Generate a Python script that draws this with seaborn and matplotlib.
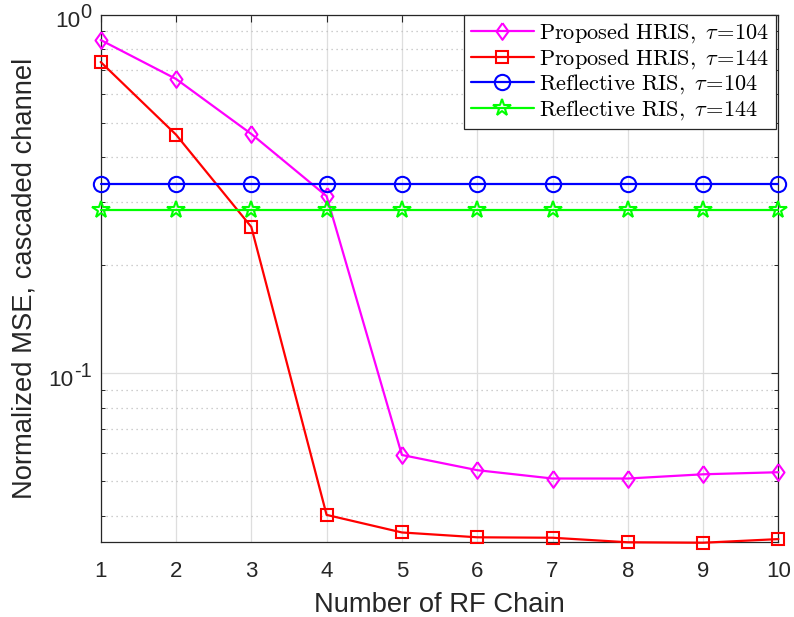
import numpy as np
import pandas as pd
import matplotlib
matplotlib.use("Agg")
import matplotlib.pyplot as plt
import seaborn as sns
from matplotlib.ticker import LogLocator, FixedLocator, NullFormatter
from matplotlib.transforms import blended_transform_factory

# ---- data ----
rf_chains = [1, 2, 3, 4, 5, 6, 7, 8, 9, 10]
hris_104 = [0.850, 0.662, 0.465, 0.312, 0.0592, 0.0537, 0.0509, 0.0509, 0.0523, 0.0530]
hris_144 = [0.738, 0.463, 0.256, 0.0403, 0.0360, 0.0349, 0.0348, 0.0338, 0.0337, 0.0345]
refl_104 = [0.337] * 10
refl_144 = [0.2855] * 10
y_major_ticks = [0.1, 1.0]

labels = [
    r"$\mathrm{Proposed\ HRIS,}\ \tau\!=\!\mathrm{104}$",
    r"$\mathrm{Proposed\ HRIS,}\ \tau\!=\!\mathrm{144}$",
    r"$\mathrm{Reflective\ RIS,}\ \tau\!=\!\mathrm{104}$",
    r"$\mathrm{Reflective\ RIS,}\ \tau\!=\!\mathrm{144}$",
]
series = [hris_104, hris_144, refl_104, refl_144]
colors = ["#FF00FF", "#FF0000", "#0000FF", "#00FF00"]
diamond = [(0, 1), (0.72, 0), (0, -1), (-0.72, 0), (0, 1)]
markers = [diamond, "s", "o", "*"]
msizes = [12, 9, 11, 13]

sns.set_style("white")
plt.rcParams["font.family"] = ["Liberation Sans", "DejaVu Sans"]
plt.rcParams["mathtext.fontset"] = "custom"
plt.rcParams["mathtext.rm"] = "Liberation Sans"
plt.rcParams["mathtext.it"] = "Liberation Sans:italic"
plt.rcParams["mathtext.bf"] = "Liberation Sans:bold"

fig = plt.figure(figsize=(7.94, 6.17), dpi=100)
ax = fig.add_axes([0.1268, 0.1211, 0.8536, 0.8551])

for y, lab, c, m, ms in zip(series, labels, colors, markers, msizes):
    df = pd.DataFrame({"x": rf_chains, "y": y})
    sns.lineplot(data=df, x="x", y="y", ax=ax, color=c, marker=m, markersize=ms,
                 markerfacecolor="none", markeredgecolor=c, markeredgewidth=1.5,
                 linewidth=1.6, label=lab, clip_on=False, zorder=3)

ax.set_yscale("log")
ax.set_xlim(1, 10)
ax.set_ylim(0.0338, 1.0)
ax.set_xticks(rf_chains)
ax.yaxis.set_major_locator(FixedLocator(y_major_ticks))
ax.yaxis.set_major_formatter(NullFormatter())
ax.yaxis.set_minor_locator(LogLocator(base=10, subs=np.arange(2, 10)))
ax.yaxis.set_minor_formatter(NullFormatter())

dark = "#262626"
ax.grid(True, which="major", axis="both", color="#DEDEDE", linestyle="-", linewidth=0.9, zorder=0)
ax.grid(True, which="minor", axis="y", color="#BEBEBE", linestyle=(0, (1, 3)), linewidth=0.9, zorder=0)
ax.set_axisbelow(True)

for sp in ax.spines.values():
    sp.set_visible(True)
    sp.set_color(dark)
    sp.set_linewidth(0.9)
ax.tick_params(which="major", direction="in", length=5, width=0.8, color=dark,
               top=True, right=True, labelsize=16, labelcolor=dark)
ax.tick_params(axis="x", which="major", pad=13.4)
ax.tick_params(which="minor", direction="in", length=3, width=0.7, color=dark,
               left=True, right=True)

ax.set_xlabel("Number of RF Chain", fontsize=19.7, color=dark, labelpad=7)
ax.set_ylabel("Normalized MSE, cascaded channel", fontsize=19.7, color=dark)
ax.yaxis.set_label_coords(-0.0929, 0.5)

# MATLAB-style y tick labels: "10" with a large superscript exponent
fig.canvas.draw()
renderer = fig.canvas.get_renderer()
trans = blended_transform_factory(ax.transAxes, ax.transData)
x_axis_px = ax.transAxes.transform((0, 0))[0]
for v in y_major_ticks:
    e = int(round(np.log10(v)))
    t_exp = ax.annotate(f"{e}", xy=(0, v), xycoords=trans,
                        xytext=(-9, -3.6), textcoords="offset pixels",
                        ha="right", va="baseline", fontsize=14.4, color=dark,
                        annotation_clip=False)
    bb = t_exp.get_window_extent(renderer)
    ax.annotate("10", xy=(0, v), xycoords=trans,
                xytext=(-(x_axis_px - bb.x0) - 0.5, -12.6), textcoords="offset pixels",
                ha="right", va="baseline", fontsize=16.2, color=dark,
                annotation_clip=False)

leg = ax.legend(loc="upper right", bbox_to_anchor=(1.0 - 2.4 / 677.8, 1.0), borderaxespad=0.0,
                fontsize=16.1, frameon=True, fancybox=False, framealpha=1,
                edgecolor=dark, handlelength=2.8, labelspacing=0.08,
                borderpad=0.3, handletextpad=0.25)
leg.get_frame().set_linewidth(0.9)
for t in leg.get_texts():
    t.set_math_fontfamily("cm")
    t.set_color("black")

fig.savefig("out.png", dpi=100)
